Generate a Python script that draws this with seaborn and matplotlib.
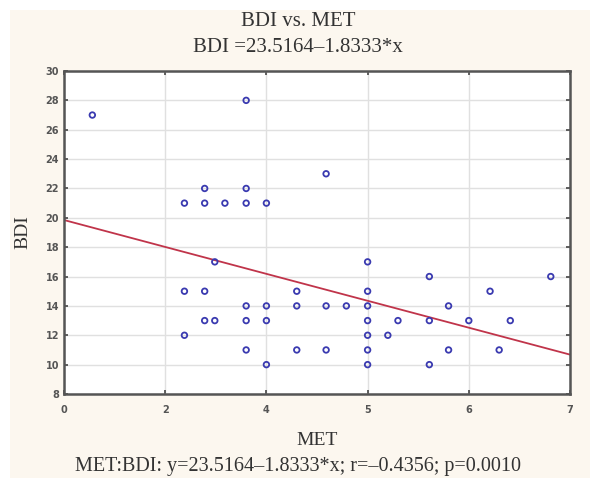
import numpy as np
import pandas as pd
import matplotlib
matplotlib.use("Agg")
import matplotlib.pyplot as plt
from matplotlib.patches import Rectangle
import seaborn as sns

met = [2.28, 3.39, 3.19, 3.39, 3.59, 3.80, 3.80, 3.80, 4.00, 4.59,
       3.49, 3.19, 3.39, 3.39, 3.49, 3.19, 5.00, 4.30, 5.00, 3.80,
       4.00, 4.30, 4.59, 4.79, 5.00, 3.80, 4.00, 5.00, 5.30, 5.00,
       5.20, 3.80, 4.30, 4.59, 5.00, 4.00, 5.00, 5.61, 6.81, 6.21,
       5.80, 5.61, 6.00, 6.41, 5.80, 6.30, 5.61]
bdi = [27, 22, 21, 21, 21, 28, 22, 21, 21, 23,
       17, 15, 15, 13, 13, 12, 17, 15, 15, 14,
       14, 14, 14, 14, 14, 13, 13, 13, 13, 12,
       12, 11, 11, 11, 11, 10, 10, 16, 16, 15,
       14, 13, 13, 13, 11, 11, 10]

intercept = 23.5164
slope = -1.8333

x_ticks = [2, 3, 4, 5, 6, 7]
x_tick_labels = ["0", "2", "4", "5", "6", "7"]
y_ticks = list(range(8, 31, 2))

df = pd.DataFrame({"MET": met, "BDI": bdi})
line_x = np.array([2.0, 7.0])
line_df = pd.DataFrame({"MET": line_x, "BDI": intercept + slope * line_x})

sns.set_style("whitegrid")
serif = ["Liberation Serif", "DejaVu Serif"]
text_col = "#333333"

fig = plt.figure(figsize=(5.96, 4.86), dpi=100)
fig.patch.set_facecolor("white")
fig.patches.append(Rectangle((10 / 596, 8 / 486), 580 / 596, 468 / 486,
                             transform=fig.transFigure, facecolor="#fcf7ef",
                             edgecolor="none", zorder=-10))
ax = fig.add_axes([64 / 596, 1 - 394 / 486, 506 / 596, 323 / 486])
ax.set_zorder(1)
ax.set_facecolor("white")

sns.lineplot(data=line_df, x="MET", y="BDI", color="#c0344a", linewidth=1.3, ax=ax, zorder=2)
sns.scatterplot(data=df, x="MET", y="BDI", marker="o", s=16, facecolor="none",
                edgecolor="#3a3ab0", linewidth=1.3, ax=ax, zorder=3)

ax.set_xlim(2, 7)
ax.set_ylim(8, 30)
ax.set_xticks(x_ticks)
ax.set_xticklabels(x_tick_labels)
ax.set_yticks(y_ticks)
ax.grid(True, color="#e0e0e0", linewidth=1.0)
for s in ax.spines.values():
    s.set_visible(True)
    s.set_color("#555555")
    s.set_linewidth(1.8)
ax.tick_params(axis="both", direction="in", length=3, width=1.2, color="#444444",
               labelsize=7, labelcolor="#555555", right=True, top=True, left=True, bottom=True)
ax.tick_params(axis="x", pad=8)
for lab in ax.get_xticklabels() + ax.get_yticklabels():
    lab.set_fontweight("bold")

ax.set_xlabel("MET", family=serif, fontsize=14, color=text_col, labelpad=12)
ax.set_ylabel("BDI", family=serif, fontsize=14, color=text_col, labelpad=10)

fig.text(0.5, 1 - 22 / 486, "BDI vs. MET", ha="center", va="center",
         family=serif, fontsize=15, color=text_col)
fig.text(0.5, 1 - 47 / 486, "BDI =23.5164\u20131.8333*x", ha="center", va="center",
         family=serif, fontsize=15, color=text_col)
fig.text(0.5, 1 - 466 / 486, "MET:BDI: y=23.5164\u20131.8333*x; r=\u20130.4356; p=0.0010",
         ha="center", va="center", family=serif, fontsize=14.5, color=text_col)

fig.savefig("out.png", dpi=100, facecolor=fig.get_facecolor())
